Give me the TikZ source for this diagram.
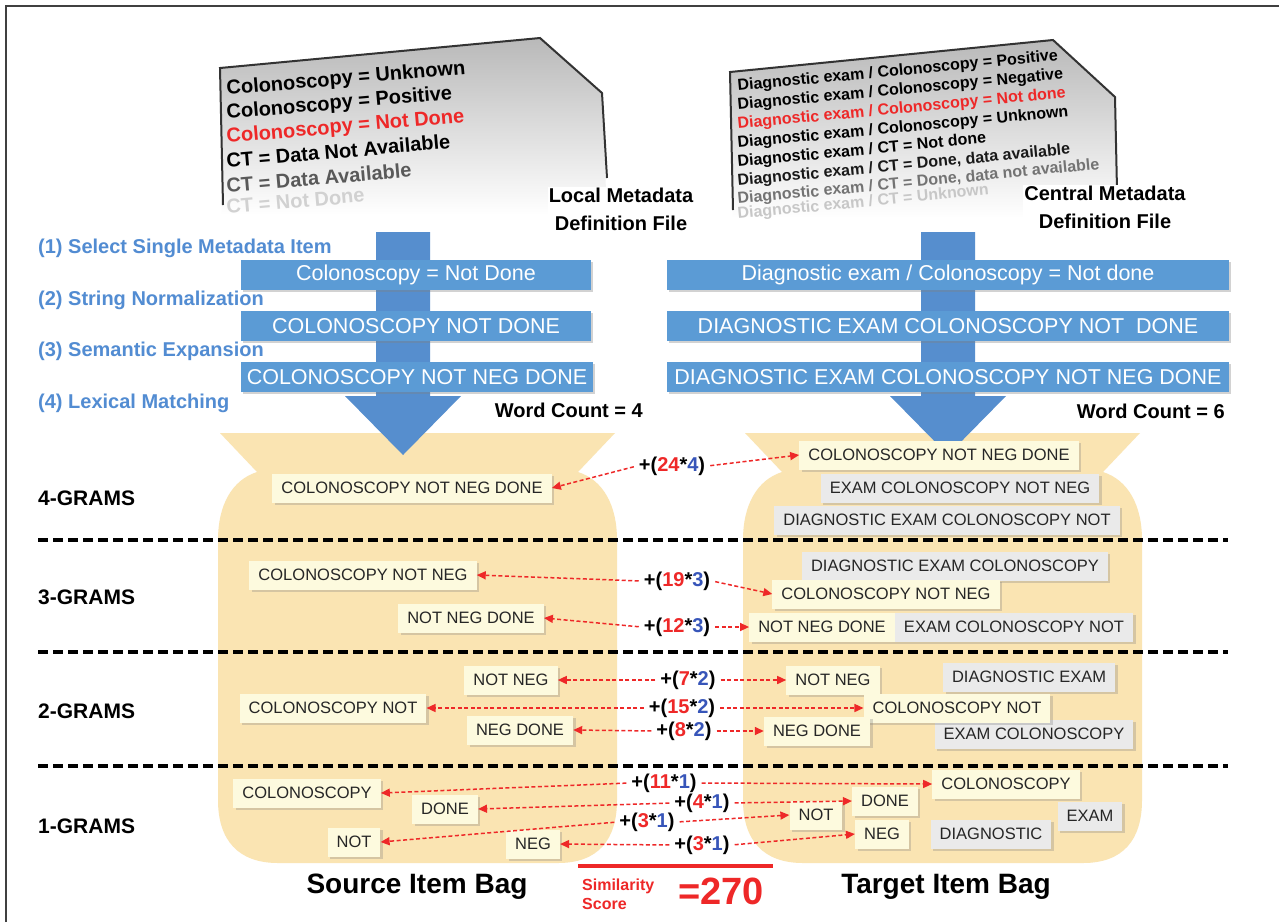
\documentclass[tikz,border=0pt]{standalone}
\usepackage{fontspec}
\setmainfont{Liberation Sans}
\usetikzlibrary{arrows.meta,shadows}

\definecolor{azul}{RGB}{91,155,213}
\definecolor{azulflecha}{RGB}{86,142,206}
\definecolor{azulpaso}{RGB}{82,140,210}
\definecolor{azulnum}{RGB}{55,85,185}
\definecolor{rojo}{RGB}{238,40,40}
\definecolor{bolsa}{RGB}{250,228,178}
\definecolor{crema}{RGB}{253,250,222}
\definecolor{grisclaro}{RGB}{234,234,234}

\newcommand{\puntos}[2]{+(\textcolor{rojo}{#1}*\textcolor{azulnum}{#2})}
\newcommand{\dibujabolsa}[1]{%
  \fill[bolsa, shift={(#1,0)}] (2,433) -- (397,433) -- (360,472)
    .. controls (385,480) and (399,505) .. (399,540) -- (399,800)
    .. controls (399,840) and (380,863) .. (340,863) -- (60,863)
    .. controls (20,863) and (0,840) .. (0,800) -- (0,540)
    .. controls (0,505) and (14,480) .. (39,472) -- cycle;}

\tikzset{
  hoja/.style={anchor=base west, inner sep=0pt},
  titulo/.style={font=\bfseries\fontsize{20}{28}\selectfont, align=center, fill=white, inner sep=1pt},
  barra/.style={fill=azul, text=white, minimum height=30pt, inner sep=0pt,
    font=\fontsize{21.5}{24}\selectfont,
    drop shadow={opacity=0.35, shadow xshift=2pt, shadow yshift=-2pt}},
  paso/.style={text=azulpaso, font=\bfseries\fontsize{20}{22}\selectfont, anchor=west, inner sep=0pt},
  caja/.style={fill=crema, text=black!85, minimum height=29pt, inner xsep=9pt, inner ysep=0pt,
    font=\fontsize{16.5}{19}\selectfont,
    drop shadow={opacity=0.3, shadow xshift=2.5pt, shadow yshift=-2.5pt}},
  cajagris/.style={caja, fill=grisclaro},
  puntaje/.style={font=\bfseries\fontsize{20}{22}\selectfont, inner sep=2pt},
  flecha/.style={rojo, line width=1.5pt, dash pattern=on 4pt off 2.5pt,
    -{Triangle[length=9pt,width=8pt]}, shorten <=3pt},
  separador/.style={line width=4pt, dash pattern=on 10pt off 5pt},
  fila/.style={font=\bfseries\fontsize{21}{24}\selectfont, anchor=west, inner sep=0pt}
}

\begin{document}
\begin{tikzpicture}[x=1pt,y=-1pt]
  \useasboundingbox (0,0) rectangle (1279,922);
  \fill[white] (0,0) rectangle (1279,922);
  \draw[line width=2.5pt, black!75] (6,922) -- (6,6) -- (1279,6);

  % Hojas de metadatos
  \shade[top color=gray!55, middle color=gray!8, bottom color=white]
    (220,68) -- (540,38) -- (602,93) -- (607,215) -- (222,215) -- cycle;
  \draw[line width=2pt, black!80] (223,205) -- (220,68) -- (540,38) -- (602,93) -- (607,178);
  \begin{scope}[font=\bfseries\fontsize{20}{22}\selectfont]
    \node[hoja, rotate=5] (hl1) at (227,95) {Colonoscopy = Unknown};
    \node[hoja, rotate=5] (hl2) at (227,119) {Colonoscopy = Positive};
    \node[hoja, rotate=5, text=rojo] (hl3) at (227,143) {Colonoscopy = Not Done};
    \node[hoja, rotate=5] (hl4) at (227,168) {CT = Data Not Available};
    \node[hoja, rotate=5, text=black!65] (hl5) at (227,193) {CT = Data Available};
    \node[hoja, rotate=5, text=black!18] (hl6) at (227,214) {CT = Not Done};
  \end{scope}

  \shade[top color=gray!55, middle color=gray!8, bottom color=white]
    (730,72) -- (1053,40) -- (1115,97) -- (1117,218) -- (733,218) -- cycle;
  \draw[line width=2pt, black!80] (733,210) -- (730,72) -- (1053,40) -- (1115,97) -- (1117,190);
  \begin{scope}[font=\bfseries\fontsize{16}{18}\selectfont]
    \node[hoja, rotate=5.5] (hr1) at (738,91) {Diagnostic exam / Colonoscopy = Positive};
    \node[hoja, rotate=5.5] (hr2) at (738,110) {Diagnostic exam / Colonoscopy = Negative};
    \node[hoja, rotate=5.5, text=rojo] (hr3) at (738,129) {Diagnostic exam / Colonoscopy = Not done};
    \node[hoja, rotate=5.5] (hr4) at (738,148) {Diagnostic exam / Colonoscopy = Unknown};
    \node[hoja, rotate=5.5] (hr5) at (738,167) {Diagnostic exam / CT = Not done};
    \node[hoja, rotate=5.5, text=black!90] (hr6) at (738,186) {Diagnostic exam / CT = Done, data available};
    \node[hoja, rotate=5.5, text=black!55] (hr7) at (738,204) {Diagnostic exam / CT = Done, data not available};
    \node[hoja, rotate=5.5, text=black!22] (hr8) at (738,219) {Diagnostic exam / CT = Unknown};
  \end{scope}

  \node[titulo] (local) at (621,209) {Local Metadata\\Definition File};
  \node[titulo] (central) at (1105,207) {Central Metadata\\Definition File};

  % Bolsas
  \dibujabolsa{218}
  \dibujabolsa{743}

  % Flechas azules
  \fill[azulflecha] (376,232) -- (430,232) -- (430,396) -- (461,396) -- (403,455)
    -- (345,396) -- (376,396) -- cycle;
  \fill[azulflecha] (921,232) -- (975,232) -- (975,396) -- (1006,396) -- (948,455)
    -- (890,396) -- (921,396) -- cycle;

  % Pasos
  \node[paso] (paso1) at (38,248) {(1) Select Single Metadata Item};
  \node[paso] (paso2) at (38,300) {(2) String Normalization};
  \node[paso] (paso3) at (38,351) {(3) Semantic Expansion};
  \node[paso] (paso4) at (38,403) {(4) Lexical Matching};

  \node[barra, minimum width=350pt] (lb1) at (416,275) {Colonoscopy = Not Done};
  \node[barra, minimum width=350pt] (lb2) at (416,326) {COLONOSCOPY NOT DONE};
  \node[barra, minimum width=352pt] (lb3) at (417,377) {COLONOSCOPY NOT NEG DONE};
  \node[barra, minimum width=562pt] (rb1) at (948,275) {Diagnostic exam / Colonoscopy = Not done};
  \node[barra, minimum width=562pt] (rb2) at (948,326) {DIAGNOSTIC EXAM COLONOSCOPY NOT \ DONE};
  \node[barra, minimum width=562pt] (rb3) at (948,377) {DIAGNOSTIC EXAM COLONOSCOPY NOT NEG DONE};

  \node[anchor=east, font=\bfseries\fontsize{20}{22}\selectfont, inner sep=0pt] (wc4) at (643,410) {Word Count = 4};
  \node[anchor=east, font=\bfseries\fontsize{20}{22}\selectfont, inner sep=0pt] (wc6) at (1225,411) {Word Count = 6};

  % Separadores
  \draw[separador] (38,540) -- (1228,540);
  \draw[separador] (38,652) -- (1228,652);
  \draw[separador] (38,766) -- (1228,766);

  \node[fila] (g4) at (38,498) {4-GRAMS};
  \node[fila] (g3) at (38,597) {3-GRAMS};
  \node[fila] (g2) at (38,711) {2-GRAMS};
  \node[fila] (g1) at (38,826) {1-GRAMS};

  % Bolsa origen
  \node[caja] (s4) at (412,488) {COLONOSCOPY NOT NEG DONE};
  \node[caja] (s3a) at (363,575) {COLONOSCOPY NOT NEG};
  \node[caja] (s3b) at (471,618) {NOT NEG DONE};
  \node[caja] (s2a) at (511,680) {NOT NEG};
  \node[caja] (s2b) at (333,708) {COLONOSCOPY NOT};
  \node[caja] (s2c) at (520,730) {NEG DONE};
  \node[caja] (s1a) at (307,793) {COLONOSCOPY};
  \node[caja] (s1b) at (445,809) {DONE};
  \node[caja] (s1c) at (354,842) {NOT};
  \node[caja] (s1d) at (533,844) {NEG};

  % Bolsa destino
  \node[caja] (t4a) at (939,455) {COLONOSCOPY NOT NEG DONE};
  \node[cajagris] (t4b) at (960,488) {EXAM COLONOSCOPY NOT NEG};
  \node[cajagris] (t4c) at (947,520) {DIAGNOSTIC EXAM COLONOSCOPY NOT};
  \node[cajagris] (t3a) at (955,566) {DIAGNOSTIC EXAM COLONOSCOPY};
  \node[caja] (t3b) at (886,594) {COLONOSCOPY NOT NEG};
  \node[caja] (t3c) at (822,627) {NOT NEG DONE};
  \node[cajagris] (t3d) at (1014,627) {EXAM COLONOSCOPY NOT};
  \node[cajagris] (t2b) at (1029,677) {DIAGNOSTIC EXAM};
  \node[cajagris] (t2e) at (1034,734) {EXAM COLONOSCOPY};
  \node[caja] (t2a) at (833,680) {NOT NEG};
  \node[caja] (t2c) at (957,708) {COLONOSCOPY NOT};
  \node[caja] (t2d) at (817,731) {NEG DONE};
  \node[cajagris] (t1e) at (991,834) {DIAGNOSTIC};
  \node[cajagris] (t1f) at (1090,816) {EXAM};
  \node[caja] (t1a) at (1006,784) {COLONOSCOPY};
  \node[caja] (t1b) at (885,801) {DONE};
  \node[caja] (t1c) at (816,815) {NOT};
  \node[caja] (t1d) at (882,834) {NEG};

  % Puntajes
  \node[puntaje] (p4) at (672,466) {\puntos{24}{4}};
  \node[puntaje] (p3a) at (677,581) {\puntos{19}{3}};
  \node[puntaje] (p3b) at (677,627) {\puntos{12}{3}};
  \node[puntaje] (p2a) at (688,680) {\puntos{7}{2}};
  \node[puntaje] (p2b) at (682,708) {\puntos{15}{2}};
  \node[puntaje] (p2c) at (684,731) {\puntos{8}{2}};
  \node[puntaje] (p1a) at (664,783) {\puntos{11}{1}};
  \node[puntaje] (p1b) at (702,803) {\puntos{4}{1}};
  \node[puntaje] (p1c) at (647,822) {\puntos{3}{1}};
  \node[puntaje] (p1d) at (702,845) {\puntos{3}{1}};

  \foreach \p/\s/\t in {p4/s4/t4a, p3a/s3a/t3b, p3b/s3b/t3c, p2a/s2a/t2a, p2b/s2b/t2c,
      p2c/s2c/t2d, p1a/s1a/t1a, p1b/s1b/t1b, p1c/s1c/t1c, p1d/s1d/t1d} {
    \draw[flecha] (\p.west) -- (\s.east);
    \draw[flecha] (\p.east) -- (\t.west);
  }

  % Puntaje total
  \node[font=\bfseries\fontsize{28}{30}\selectfont] (origen) at (417,887) {Source Item Bag};
  \node[font=\bfseries\fontsize{28}{30}\selectfont] (destino) at (946,887) {Target Item Bag};
  \draw[rojo, line width=3.5pt] (578,866) -- (773,866);
  \node[anchor=west, align=left, text=rojo, inner sep=0pt,
    font=\bfseries\fontsize{16}{19}\selectfont] (sim) at (582,894) {Similarity\\Score};
  \node[anchor=west, text=rojo, inner sep=0pt,
    font=\bfseries\fontsize{38}{40}\selectfont] (total) at (678,891) {=270};
\end{tikzpicture}
\end{document}
